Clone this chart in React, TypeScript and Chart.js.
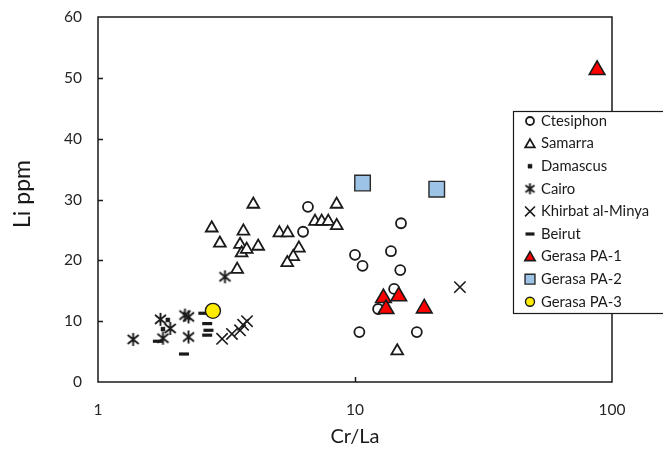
import React, { useEffect, useRef } from 'react';
import { Chart, registerables } from 'chart.js';
import { drawPoint } from 'chart.js/helpers';

Chart.register(...registerables);

const seriesNames = ['Ctesiphon', 'Samarra', 'Damascus', 'Cairo', 'Khirbat al-Minya', 'Beirut', 'Gerasa PA-1', 'Gerasa PA-2', 'Gerasa PA-3'];

const ctesiphonX = [6.56, 6.28, 10.0, 10.7, 15.1, 13.8, 15.0, 14.2, 12.3, 10.4, 17.4];
const ctesiphonY = [28.8, 24.7, 20.9, 19.1, 26.1, 21.5, 18.4, 15.3, 12.0, 8.2, 8.2];

const samarraX = [4.02, 2.77, 2.98, 3.68, 3.57, 3.62, 3.79, 4.2, 3.48, 5.08, 5.47, 6.05, 5.75, 5.45, 8.48, 6.99, 7.42, 7.87, 8.49, 14.6];
const samarraY = [29.2, 25.3, 22.8, 24.8, 22.6, 21.2, 21.8, 22.3, 18.5, 24.5, 24.5, 22.0, 20.6, 19.6, 29.2, 26.4, 26.4, 26.4, 25.7, 5.1];

const damascusX = [1.87, 1.79];
const damascusY = [10.2, 8.7];

const cairoX = [1.37, 1.75, 1.91, 1.79, 2.18, 2.25, 2.25, 3.12];
const cairoY = [7.0, 10.3, 8.8, 7.2, 11.0, 10.7, 7.4, 17.3];

const khirbatX = [3.04, 3.32, 3.57, 3.67, 3.8, 25.6];
const khirbatY = [7.1, 7.9, 8.5, 9.4, 10.0, 15.6];

const beirutX = [1.71, 2.16, 2.57, 2.66, 2.69, 2.66];
const beirutY = [6.7, 4.6, 11.3, 9.6, 8.5, 7.7];

const pa1X = [12.9, 14.8, 13.2, 18.6, 87.5];
const pa1Y = [13.8, 14.1, 12.0, 12.1, 51.3];

const pa2X = [10.7, 20.8];
const pa2Y = [32.7, 31.7];

const pa3X = [2.8];
const pa3Y = [11.7];

const xTicks = [1, 10, 100];
const yTicks = [0, 10, 20, 30, 40, 50, 60];

const FONT = 'Lato, "Open Sans", sans-serif';
const INK = '#1a1a1a';

function pts(xs: number[], ys: number[]) {
  return xs.map((x, i) => ({ x, y: ys[i] }));
}

function makeCairo(size: number, lw: number) {
  const c = document.createElement('canvas');
  c.width = size;
  c.height = size;
  const g = c.getContext('2d')!;
  g.strokeStyle = INK;
  g.lineWidth = lw;
  const m = 2;
  g.beginPath();
  g.moveTo(m, m + 1);
  g.lineTo(size - m, size - m - 1);
  g.moveTo(size - m, m + 1);
  g.lineTo(m, size - m - 1);
  g.moveTo(size / 2, m - 1);
  g.lineTo(size / 2, size - m + 1);
  g.stroke();
  return c;
}

export default function App() {
  const ref = useRef<HTMLCanvasElement | null>(null);

  useEffect(() => {
    const cairo = makeCairo(15, 1.9);
    const cairoLegend = makeCairo(13, 1.9);

    const styles: any[] = [
      { pointStyle: 'circle', radius: 5, bg: '#ffffff', border: INK, bw: 1.8, lr: 4 },
      { pointStyle: 'triangle', radius: 6.8, bg: '#ffffff', border: INK, bw: 1.8, lr: 5.5 },
      { pointStyle: 'rect', radius: 2.8, bg: INK, border: INK, bw: 0.5, lr: 2.8 },
      { pointStyle: cairo, radius: 7, bg: INK, border: INK, bw: 0, legendStyle: cairoLegend, lr: 6 },
      { pointStyle: 'crossRot', radius: 8, bg: INK, border: INK, bw: 1.6, lr: 7 },
      { pointStyle: 'line', radius: 5, bg: INK, border: INK, bw: 3.2, lr: 4.5 },
      { pointStyle: 'triangle', radius: 9, bg: '#ff0000', border: INK, bw: 1.6, lr: 6 },
      { pointStyle: 'rect', radius: 11, bg: '#9dc3e6', border: '#2a2a2a', bw: 1.4, lr: 7 },
      { pointStyle: 'circle', radius: 7.5, bg: '#ffec00', border: INK, bw: 1.4, lr: 4.5 },
    ];

    const seriesData = [
      pts(ctesiphonX, ctesiphonY),
      pts(samarraX, samarraY),
      pts(damascusX, damascusY),
      pts(cairoX, cairoY),
      pts(khirbatX, khirbatY),
      pts(beirutX, beirutY),
      pts(pa1X, pa1Y),
      pts(pa2X, pa2Y),
      pts(pa3X, pa3Y),
    ];

    const datasets = seriesNames.map((name, i) => ({
      label: name,
      data: seriesData[i],
      pointStyle: styles[i].pointStyle,
      pointRadius: styles[i].radius,
      pointBackgroundColor: styles[i].bg,
      pointBorderColor: styles[i].border,
      pointBorderWidth: styles[i].bw,
      showLine: false,
      clip: false,
      order: -i,
    }));

    const framePlugin = {
      id: 'frame',
      afterDraw(chart: any) {
        const { ctx, chartArea } = chart;
        const { left, right, top, bottom } = chartArea;
        const xs = chart.scales.x;
        const ys = chart.scales.y;
        ctx.save();
        ctx.strokeStyle = INK;
        ctx.lineWidth = 1.5;
        ctx.strokeRect(left, top, right - left, bottom - top);
        ctx.beginPath();
        for (const v of yTicks) {
          if (v === 0 || v === 60) continue;
          const y = Math.round(ys.getPixelForValue(v)) + 0.5;
          ctx.moveTo(left, y);
          ctx.lineTo(left + 5, y);
        }
        const x10 = Math.round(xs.getPixelForValue(10)) + 0.5;
        ctx.moveTo(x10, bottom);
        ctx.lineTo(x10, bottom - 5);
        ctx.stroke();

        // axis titles
        ctx.fillStyle = INK;
        ctx.font = `20px ${FONT}`;
        ctx.textAlign = 'center';
        ctx.textBaseline = 'middle';
        ctx.fillText('Cr/La', (left + right) / 2, 437);
        ctx.save();
        ctx.translate(23, 194);
        ctx.rotate(-Math.PI / 2);
        ctx.font = `23px ${FONT}`;
        ctx.fillText('Li ppm', 0, 0);
        ctx.restore();

        // legend
        const lx = 513, ly = 111, lw = 170, lh = 202;
        ctx.fillStyle = '#ffffff';
        ctx.fillRect(lx, ly, lw, lh);
        ctx.strokeStyle = INK;
        ctx.lineWidth = 1.2;
        ctx.strokeRect(lx + 0.5, ly + 0.5, lw, lh);
        ctx.font = `14.8px ${FONT}`;
        ctx.textAlign = 'left';
        ctx.textBaseline = 'middle';
        seriesNames.forEach((name, i) => {
          const cy = 121 + i * 22.6;
          const st = styles[i];
          ctx.save();
          ctx.fillStyle = st.bg;
          ctx.strokeStyle = st.border;
          ctx.lineWidth = st.bw;
          drawPoint(ctx, {
            pointStyle: st.legendStyle || st.pointStyle,
            radius: st.lr,
            rotation: 0,
            borderWidth: st.bw,
          }, 530, st.pointStyle === 'triangle' ? cy + 1 : cy);
          ctx.restore();
          ctx.fillStyle = INK;
          ctx.fillText(name, 541, cy);
        });
        ctx.restore();
      },
    };

    const chart = new Chart(ref.current!, {
      type: 'scatter',
      data: { datasets },
      options: {
        responsive: false,
        animation: false,
        devicePixelRatio: 1,
        events: [],
        layout: { autoPadding: false, padding: { top: 17, right: 51, left: 0, bottom: 0 } },
        plugins: { legend: { display: false }, tooltip: { enabled: false } },
        scales: {
          x: {
            type: 'logarithmic',
            min: 1,
            max: 100,
            grid: { display: false, drawTicks: false },
            border: { display: false },
            afterBuildTicks: (s: any) => {
              s.ticks = xTicks.map((v) => ({ value: v }));
            },
            afterFit: (s: any) => {
              s.height = 68;
              s.paddingLeft = 0;
              s.paddingRight = 0;
            },
            ticks: {
              autoSkip: false,
              maxRotation: 0,
              padding: 19,
              color: '#262626',
              font: { family: FONT, size: 15.5 },
              callback: (v: any) => String(v),
            },
          },
          y: {
            min: 0,
            max: 60,
            grid: { display: false, drawTicks: false },
            border: { display: false },
            afterBuildTicks: (s: any) => {
              s.ticks = yTicks.map((v) => ({ value: v }));
            },
            afterFit: (s: any) => {
              s.width = 98;
              s.paddingTop = 0;
              s.paddingBottom = 0;
            },
            ticks: {
              padding: 16,
              color: '#262626',
              font: { family: FONT, size: 15.5 },
              callback: (v: any) => String(v),
            },
          },
        },
      },
      plugins: [framePlugin],
    } as any);

    return () => chart.destroy();
  }, []);

  return (
    <div style={{ position: 'absolute', left: 0, top: 0, width: 663, height: 450, background: '#fff' }}>
      <canvas ref={ref} width={663} height={450} style={{ display: 'block' }} />
    </div>
  );
}
